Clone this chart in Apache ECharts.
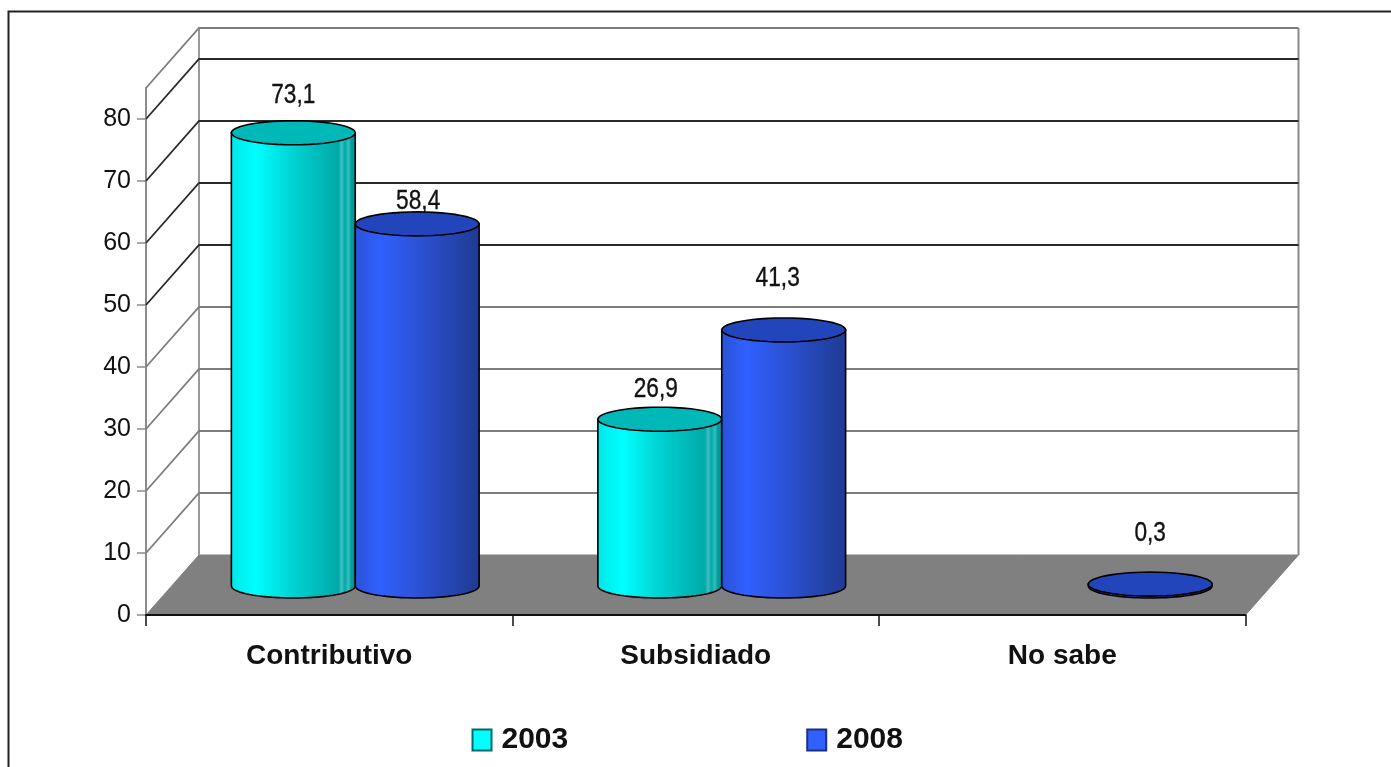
<!DOCTYPE html>
<html><head><meta charset="utf-8">
<style>html,body{margin:0;padding:0;background:#fff;overflow:hidden}#c{width:1391px;height:767px}</style>
<script src="https://cdn.jsdelivr.net/npm/echarts@6/dist/echarts.min.js"></script>
</head><body><div id="c"></div>
<script>
const categories = ['Contributivo', 'Subsidiado', 'No sabe'];
const years = ['2003', '2008'];
const values2003 = [73.1, 26.9, null];
const values2008 = [58.4, 41.3, 0.3];
const valueTicks = [0, 10, 20, 30, 40, 50, 60, 70, 80];
const axisMax = 85;
// Label placement relative to the cylinder top (not data)
const labelLift2003 = [37, 30, 0];
const labelLift2008 = [22, 51, 51];
const labelShift2003 = [0, -4, 0];
const labelShift2008 = [1, -6, 0];

const DX = 53, DY = -60;
const FONT = '"Liberation Sans", Arial, sans-serif';

const chart = echarts.init(document.getElementById('c'), null, {renderer: 'canvas'});
const G = (stops) => new echarts.graphic.LinearGradient(0, 0, 1, 0, stops.map(s => ({offset: s[0], color: s[1]})));
const tealSide = G([[0, '#00e6e6'], [0.2, '#00ffff'], [0.5, '#00d2d2'], [0.86, '#00a9a9'], [0.885, '#3fc0c0'], [0.91, '#00aaaa'], [0.94, '#38bcbc'], [0.96, '#00a0a0'], [1, '#008f8f']]);
const blueSide = G([[0, '#2a52d6'], [0.2, '#3060ff'], [0.55, '#2b50cf'], [1, '#1f3a92']]);
const tealTop = '#00b8b8', blueTop = '#2245bb';

function arc(cx, cy, rx, ry, from, to, n) {
  const pts = [];
  for (let k = 0; k <= n; k++) {
    const t = from + (to - from) * k / n;
    pts.push([cx + rx * Math.cos(t), cy + ry * Math.sin(t)]);
  }
  return pts;
}

function cylinderSeries(name, values, lifts, shifts, side, top, sign) {
  return {
    type: 'custom', name, z: 5, clip: false,
    itemStyle: {color: sign < 0 ? '#00ffff' : '#3060ff', borderColor: sign < 0 ? '#006b6b' : '#1a2f80', borderWidth: 2},
    encode: {x: 0, y: 1},
    data: values.map((v, i) => [i, v, lifts[i], shifts[i]]),
    renderItem(params, api) {
      const i = api.value(0), v = api.value(1);
      if (isNaN(v)) return null;
      const t = api.coord([i, v]), b = api.coord([i, 0]);
      const band = api.size([1, 0])[0];
      const rx = band * 0.169, ry = 12;
      const cx = t[0] + DX / 2 - 0.5 + sign * rx;
      const yt = t[1] + DY / 2 + 1, yb = b[1] + DY / 2 + 1;
      const lineStyle = {stroke: '#000', lineWidth: 1.6};
      const body = [[cx - rx, yt]].concat(arc(cx, yb, rx, ry, Math.PI, 0, 36), [[cx + rx, yt]]);
      const topPts = arc(cx, yt, rx, ry, 0, 2 * Math.PI, 48);
      return {type: 'group', children: [
        {type: 'text', x: cx + api.value(3), y: yt - api.value(2), scaleX: 0.84,
          style: {text: String(v).replace('.', ','), x: 0, y: 0,
          align: 'center', verticalAlign: 'middle', font: '27px ' + FONT, fill: '#111', stroke: '#111', lineWidth: 0.35}},
        {type: 'polygon', shape: {points: body}, style: Object.assign({fill: side}, lineStyle)},
        {type: 'polygon', shape: {points: topPts}, style: Object.assign({fill: top}, lineStyle)}
      ]};
    }
  };
}

chart.setOption({
  animation: false,
  backgroundColor: '#fff',
  textStyle: {fontFamily: FONT},
  grid: {left: 146, top: 88, width: 1099.5, height: 527, containLabel: false},
  xAxis: {
    type: 'category', data: categories, boundaryGap: true,
    axisLine: {lineStyle: {color: '#111', width: 2}}, axisTick: {show: true, alignWithLabel: false, length: 11, lineStyle: {color: '#111', width: 1.5}},
    axisLabel: {color: '#111', fontFamily: FONT, fontWeight: 'bold', fontSize: 28, margin: 27},
    z: 6
  },
  yAxis: {
    type: 'value', min: 0, max: axisMax, interval: 10,
    axisLine: {show: true, lineStyle: {color: '#8c8c8c', width: 2}},
    axisTick: {show: true, length: 9, lineStyle: {color: '#8c8c8c', width: 1.5}, customValues: valueTicks},
    axisLabel: {color: '#111', fontFamily: FONT, fontSize: 25, margin: 15, padding: [0, 0, 9, 0], customValues: valueTicks},
    splitLine: {show: false}
  },
  legend: {
    left: 471.5, top: 725, itemWidth: 19, itemHeight: 21, itemGap: 238, icon: 'rect',
    selectedMode: false, padding: 0,
    textStyle: {color: '#111', fontFamily: FONT, fontWeight: 'bold', fontSize: 30, padding: [0, 0, 0, 5]},
    data: years
  },
  graphic: [{type: 'polyline', silent: true, shape: {points: [[8.5, 767], [8.5, 11.5], [1391, 11.5]]}, style: {stroke: '#222', lineWidth: 2, fill: null}}],
  series: [
    {
      type: 'custom', name: 'walls', z: 1, clip: false, silent: true,
      data: valueTicks.concat([axisMax]).map(v => [v]),
      encode: {y: 0},
      renderItem(params, api) {
        const v = api.value(0), cs = params.coordSys;
        const y = api.coord([0, v])[1], x0 = cs.x, x1 = cs.x + cs.width;
        const ticked = valueTicks.includes(v);
        const c = (v >= 50 && ticked) ? '#2a2a2a' : '#7d7d7d';
        const children = [];
        if (v === 0) {
          const y0 = y;
          children.push({type: 'polygon', shape: {points: [[x0, y0], [x0 + DX, y0 + DY], [x1 + DX, y0 + DY], [x1, y0]]}, style: {fill: '#808080', stroke: '#808080', lineWidth: 1}});
          const top = cs.y;
          children.push({type: 'line', shape: {x1: x0 + DX, y1: top + DY, x2: x0 + DX, y2: y0 + DY}, style: {stroke: '#999', lineWidth: 2}});
          children.push({type: 'line', shape: {x1: x1 + DX, y1: top + DY, x2: x1 + DX, y2: y0 + DY}, style: {stroke: '#8a8a8a', lineWidth: 2}});
        } else {
          children.push({type: 'polyline', shape: {points: [[x0, y], [x0 + DX, y + DY], [x1 + DX, y + DY]]}, style: {stroke: c, lineWidth: 1.8, fill: null}});
        }
        return {type: 'group', children};
      }
    },
    cylinderSeries(years[0], values2003, labelLift2003, labelShift2003, tealSide, tealTop, -1),
    cylinderSeries(years[1], values2008, labelLift2008, labelShift2008, blueSide, blueTop, 1)
  ]
});
</script></body></html>
